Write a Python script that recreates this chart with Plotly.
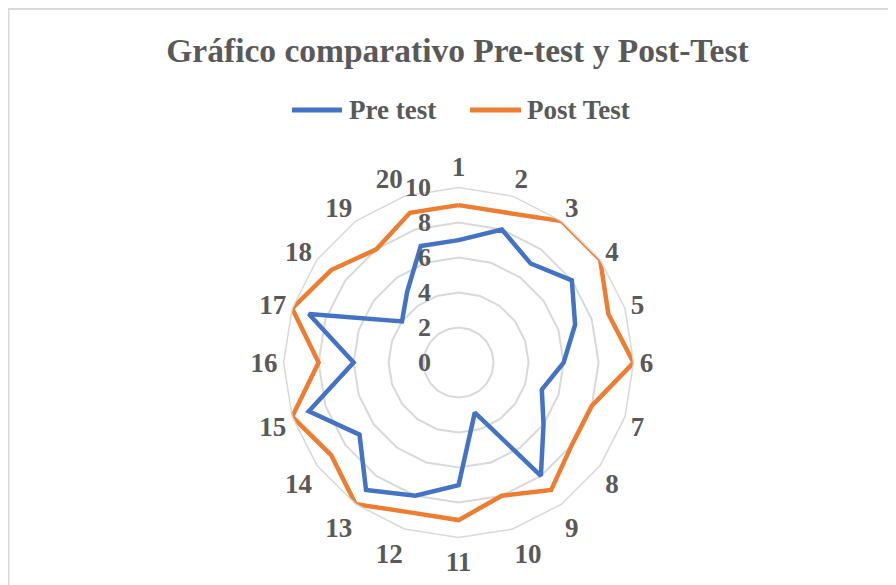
import plotly.graph_objects as go

categories = [str(i) for i in range(1, 21)]
pre_test = [7, 8, 7, 8, 7, 6, 5, 6, 8, 3, 7, 8, 9, 7, 9, 6, 9, 4, 5, 7]
post_test = [9, 9, 10, 10, 9, 10, 8, 8, 9, 8, 9, 9, 10, 9, 10, 8, 10, 9, 8, 9]
radial_ticks = [0, 2, 4, 6, 8, 10]
series_names = ["Pre test", "Post Test"]
series_colors = ["#4472C4", "#ED7D31"]

TXT = "#595959"
GRID = "#d9d9d9"
FONT = "Liberation Serif"
W, H = 896, 585

fig = go.Figure()
for name, vals, col in zip(series_names, [pre_test, post_test], series_colors):
    fig.add_trace(go.Scatterpolar(
        r=vals + vals[:1], theta=categories + categories[:1],
        mode="lines", name=name, showlegend=False,
        line=dict(color=col, width=4.5),
    ))

# frame (top and left edges only) and manual legend with long line samples
shapes = [
    dict(type="line", xref="paper", yref="paper", x0=0.5 / W, x1=0.5 / W,
         y0=0, y1=1, line=dict(color=GRID, width=2)),
    dict(type="line", xref="paper", yref="paper", x0=0, x1=1,
         y0=1 - 1 / H, y1=1 - 1 / H, line=dict(color=GRID, width=2)),
]
annotations = []
leg_y = 1 - 102 / H
for name, col, (lx0, lx1, tx) in zip(series_names, series_colors,
                                      [(284, 334, 339), (462, 513, 517)]):
    shapes.append(dict(type="line", xref="paper", yref="paper",
                       x0=lx0 / W, x1=lx1 / W, y0=leg_y, y1=leg_y,
                       line=dict(color=col, width=5)))
    annotations.append(dict(text=name, xref="paper", yref="paper",
                            x=tx / W, y=leg_y, xanchor="left", yanchor="middle",
                            showarrow=False,
                            font=dict(family=FONT, size=27, weight="bold", color=TXT)))

fig.update_layout(
    width=W, height=H,
    margin=dict(l=0, r=0, t=0, b=0),
    paper_bgcolor="white",
    title=dict(
        text="Gráfico comparativo Pre-test y Post-Test",
        x=449.5 / W, xanchor="center", y=1 - 42 / H, yanchor="middle",
        font=dict(family=FONT, size=33.5, weight="bold", color=TXT),
    ),
    showlegend=False,
    polar=dict(
        domain=dict(x=[0.3076, 0.6982], y=[0.0947, 0.6930]),
        bgcolor="white",
        gridshape="linear",
        radialaxis=dict(
            range=[0, 10], tickvals=radial_ticks, angle=90, tickangle=90,
            side="counterclockwise",
            showline=False, gridcolor=GRID, gridwidth=1.5,
            ticks="outside", ticklen=18, tickcolor="rgba(0,0,0,0)",
            tickfont=dict(family=FONT, size=26, weight="bold", color=TXT),
        ),
        angularaxis=dict(
            type="category", categoryarray=categories,
            rotation=90, direction="clockwise",
            showgrid=False, showline=True, linecolor=GRID, linewidth=1.5,
            ticks="", tickfont=dict(family=FONT, size=27, weight="bold", color=TXT),
        ),
    ),
    shapes=shapes,
    annotations=annotations,
)

fig.write_html("out.html")
